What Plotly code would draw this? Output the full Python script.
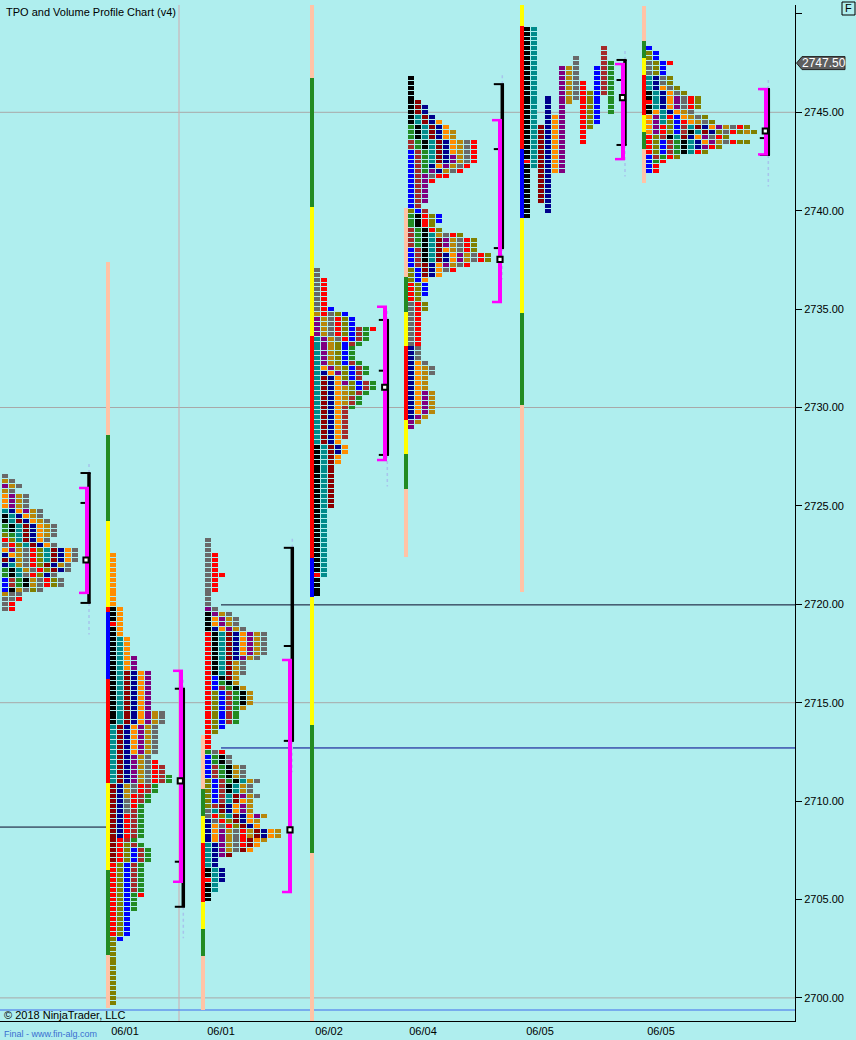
import plotly.graph_objects as go

# ---------------------------------------------------------------- data
TICK = 0.25
TPO_COLORS = {'k': '#000000', 't': '#008B8B', 'm': '#8B0000', 'n': '#00008B', 'o': '#FF8C00',
              'p': '#800080', 'g': '#B8860B', 'y': '#696969', 'r': '#FF0000', 'l': '#808000',
              'b': '#0000FF', 'w': '#A52A2A', 'e': '#228B22'}
BAR_COLORS = {'P': '#FFC3A6', 'G': '#228B22', 'Y': '#FFFF00', 'R': '#FF0000', 'B': '#0000FF'}

# TPO rows (letters per price row, top -> bottom), run-length encoded
A_TOP = 2726.5
A_ROWS = [("y", 1), ("gy", 1), ("pgy", 1), ("gy", 1), ("opgy", 3), ("tnopgy", 1), ("ktnogy", 1),
          ("ktmnogy", 1), ("ektmnogy", 2), ("letmnogy", 1), ("rltmnoy", 1), ("yrltmnoy", 1),
          ("opgyrltmnoy", 1), ("nogyrltmnoy", 1), ("mngyrltmnoy", 1), ("ntgyrlmngy", 1),
          ("ektgyrlmny", 1), ("ektyrlny", 1), ("bwekgyrly", 2), ("bkgyly", 1), ("gyy", 1),
          ("yyr", 1), ("yr", 2)]

B_TOP = 2722.5
B_ROWS = [("o", 11), ("ko", 3), ("ro", 1), ("ko", 2), ("kto", 4), ("ktop", 3), ("ktmnop", 8),
          ("ktmnopgy", 3), ("tmnopgy", 6), ("tmnpgy", 1), ("tmnpgyr", 1), ("tmnpgyrw", 2),
          ("tmnpgyrwe", 2), ("mngyrwe", 2), ("mngrwe", 1), ("mnyrwe", 1), ("mnyre", 1),
          ("mnywe", 1), ("mnrwe", 5), ("mrwe", 1), ("mrlwe", 1), ("mrlbwe", 3), ("rlbwe", 6),
          ("rlber", 1), ("rlbe", 3), ("rlb", 5), ("lb", 1), ("l", 13)]

C_TOP = 2723.25
C_ROWS = [("y", 3), ("yr", 4), ("yrr", 1), ("yr", 3), ("y", 3), ("py", 1), ("kpgy", 1),
          ("kopgy", 2), ("knopgy", 1), ("rktmnopgy", 5), ("rktmnpgy", 1), ("rktmgy", 3),
          ("rbkmg", 1), ("rbekg", 1), ("rbwekg", 1), ("rlbwekg", 3), ("rlbweg", 1), ("rlbwe", 3),
          ("rlb", 1), ("rl", 1), ("r", 3), ("eyr", 1), ("beky", 2), ("bwekgy", 3),
          ("lbwektgy", 1), ("lbwktgy", 2), ("lbwtmpgy", 1), ("lbwtmog", 1), ("lwmnopg", 1),
          ("ytmnopg", 1), ("yrltmnopg", 1), ("nyrlmnog", 1), ("noyrlmno", 1),
          ("nopgyrgmnog", 2), ("nopgyrmog", 1), ("tnpgyrmo", 1), ("tnpgymo", 1), ("tnpm", 1),
          ("tn", 2), ("ktn", 2), ("rtn", 1), ("kt", 2), ("k", 2)]

D_TOP = 2737.0
D_ROWS = [("y", 2), ("yr", 6), ("yrb", 1), ("grylb", 1), ("pgyrlb", 2), ("pgyrlbwer", 1),
          ("pgyrlbwe", 1), ("tpgyrbwe", 1), ("tpglbwe", 1), ("tpglbe", 3), ("tpglbwe", 1),
          ("topglbwe", 1), ("tnoplbwe", 1), ("tmnolbw", 1), ("tmnoplbwe", 1), ("tmnoglbwe", 1),
          ("tmnoglwe", 1), ("tmnogwe", 2), ("tmnowe", 1), ("tmnow", 6), ("tmno", 1),
          ("ktmno", 2), ("ktmo", 2), ("ktm", 9), ("kt", 13), ("rt", 1), ("k", 4)]

E_TOP = 2746.75
E_ROWS = [("k", 5), ("km", 1), ("kmn", 2), ("ktmn", 1), ("ktmno", 1), ("ektmno", 1),
          ("ektmnog", 2), ("wektmnogyr", 2), ("bwetmnogyr", 1), ("bwetmnpgyr", 2),
          ("bwenopgyr", 1), ("bwepngyr", 1), ("bwpyrr", 1), ("bwpr", 1), ("bwp", 4), ("bw", 1),
          ("lbw", 1), ("ekrlb", 2), ("ekrl", 1), ("wekrl", 1), ("wektgyrl", 1),
          ("wektmpgyrl", 2), ("bwktmogyrl", 1), ("bwktmnopgyrl", 2), ("bwmnopgyr", 1),
          ("lbmnoyr", 1), ("lbmno", 1), ("lbo", 1), ("rlb", 3), ("rl", 1), ("yrl", 2),
          ("yr", 7), ("ny", 3), ("noy", 1), ("nogy", 2), ("nog", 3), ("nopg", 5), ("npg", 1),
          ("pg", 1), ("p", 1)]

G_TOP = 2748.25
G_ROWS = [("b", 1), ("lb", 2), ("ylbr", 1), ("ylb", 2), ("tnyl", 2), ("tnoyl", 1), ("ktnoyl", 1),
          ("ktnopyrl", 1), ("rtnopyrl", 1), ("ktnopyrl", 1), ("kotnogy", 1), ("optrbogyl", 1),
          ("optlbrogyl", 1), ("oprlbwtmnopgyrl", 1), ("oprlbwktmnlyrlgl", 1),
          ("rlwktmnopyrl", 1), ("rlbwektnopgyrll", 1), ("rlbwektnprl", 1), ("rlbwektrl", 1),
          ("bwerl", 1), ("ber", 1), ("br", 2)]

# split profile (one column per period): period letter, high, low
F_PERIODS = "ktmnopgyrlbwe"
F_HIGH = [2749.25, 2749.25, 2744.25, 2745.75, 2744.75, 2747.25, 2747.25, 2747.75, 2746.5,
          2746.0, 2747.25, 2748.25, 2747.5]
F_LOW = [2739.75, 2742.25, 2740.5, 2740.0, 2742.0, 2742.0, 2745.5, 2745.75, 2743.5,
         2744.25, 2744.5, 2746.0, 2745.0]
F_OPEN = 2742.5

# session range bars: price edges (top -> bottom) and segment colours
B_BAR_EDGES = [2737.4, 2728.6, 2724.24, 2719.87, 2719.6, 2716.2, 2710.9, 2706.5, 2702.2, 2699.5]
B_BAR_COLS = "PGYRBRYGP"
C_BAR_EDGES = [2713.36, 2710.61, 2709.24, 2707.87, 2704.87, 2703.5, 2702.13, 2699.39]
C_BAR_COLS = "PGYRYGP"
D_BAR_EDGES = [2751.0, 2746.74, 2740.19, 2733.63, 2722.35, 2720.37, 2713.87, 2707.37, 2698.0]
D_BAR_COLS = "PGYRBYGP"
E_BAR_EDGES = [2740.14, 2736.63, 2734.85, 2733.12, 2729.36, 2727.64, 2725.86, 2722.4]
E_BAR_COLS = "PGYRYGP"
F_BAR_EDGES = [2751.0, 2749.39, 2743.14, 2739.63, 2734.8, 2730.13, 2720.63]
F_BAR_COLS = "YRBYGP"
G_BAR_EDGES = [2750.4, 2748.62, 2747.76, 2746.9, 2744.86, 2744.0, 2743.13, 2741.4]
G_BAR_COLS = "PGYRYGP"

# value area (magenta), range bracket (black), POC marker per profile A..G
VA_HIGH = [2725.91, 2716.62, 2717.17, 2735.12, 2744.60, 2747.45, 2746.18]
VA_LOW = [2720.58, 2705.90, 2705.38, 2727.33, 2735.36, 2742.62, 2742.86]
RNG_HIGH = [2726.67, 2715.71, 2722.87, 2734.45, 2746.43, 2747.66, 2746.18]
RNG_LOW = [2720.07, 2704.63, 2713.06, 2727.59, 2738.10, 2743.34, 2742.83]
RNG_MID = [2725.15, 2706.92, 2717.88, 2731.87, 2743.13, 2746.64, 2743.69]
POC = [2722.25, 2711.03, 2708.54, 2731.03, 2737.53, 2745.75, 2744.05]

# reference lines
HLINE_PRICES = [2719.97, 2712.70, 2708.68]
GRID_PRICES = [2745, 2730, 2715, 2700]
BLUE_LINE = 2699.39
LAST_PRICE = 2747.50

DATE_LABELS = ["06/01", "06/01", "06/02", "06/04", "06/05", "06/05"]
Y_TICKS = [2700, 2705, 2710, 2715, 2720, 2725, 2730, 2735, 2740, 2745, 2750]

# ---------------------------------------------------------------- layout / positions
W, H = 856, 1040
PLOT_L, PLOT_R, PLOT_T, PLOT_B = 0, 795, 5, 1021
Y_RANGE = [2698.826, 2750.452]
PX_PER_PT = (PLOT_B - PLOT_T) / (Y_RANGE[1] - Y_RANGE[0])
CELL_W, PITCH, CELL_H, BAR_W = 6, 7, 0.2, 4
PROFILE_X = {'A': 2, 'B': 110, 'C': 205, 'D': 314, 'E': 408, 'F': 524, 'G': 646}
BAR_X = {'B': 106, 'C': 201, 'D': 310, 'E': 404, 'F': 520, 'G': 642}
VA_X = [87, 181, 290, 385, 500, 623, 766]
RNG_X = [89, 183.3, 292.3, 387.3, 502.3, 625, 768.3]
MARK_X = [86, 180.3, 290, 384.7, 500, 622.5, 765.3]
MARK_HALF = 2.6  # px
DATE_X = [125, 221, 329, 423, 540, 661]
HLINE_SPANS = [(221, 795, '#080828'), (221, 795, '#00008B'), (0, 107, '#080828')]

# ---------------------------------------------------------------- build marks
groups = {}


def add(color, xc, base, h, w):
    g = groups.setdefault(color, {'x': [], 'base': [], 'h': [], 'w': []})
    g['x'].append(xc)
    g['base'].append(base)
    g['h'].append(h)
    g['w'].append(w)


def add_rows(top, rows, x0):
    i = 0
    for s, n in rows:
        for _ in range(n):
            price = top - i * TICK
            for j, ch in enumerate(s):
                if ch != ' ':
                    add(TPO_COLORS[ch], x0 + j * PITCH + CELL_W / 2, price - CELL_H / 2, CELL_H, CELL_W)
            i += 1


add_rows(A_TOP, A_ROWS, PROFILE_X['A'])
add_rows(B_TOP, B_ROWS, PROFILE_X['B'])
add_rows(C_TOP, C_ROWS, PROFILE_X['C'])
add_rows(D_TOP, D_ROWS, PROFILE_X['D'])
add_rows(E_TOP, E_ROWS, PROFILE_X['E'])
add_rows(G_TOP, G_ROWS, PROFILE_X['G'])

for j, (c, hi, lo) in enumerate(zip(F_PERIODS, F_HIGH, F_LOW)):
    n = int(round((hi - lo) / TICK))
    for k in range(n + 1):
        price = hi - k * TICK
        col = 'r' if (j == 0 and abs(price - F_OPEN) < 1e-6) else c
        add(TPO_COLORS[col], PROFILE_X['F'] + j * PITCH + CELL_W / 2, price - CELL_H / 2, CELL_H, CELL_W)

for key, edges, cols in [('B', B_BAR_EDGES, B_BAR_COLS), ('C', C_BAR_EDGES, C_BAR_COLS),
                         ('D', D_BAR_EDGES, D_BAR_COLS), ('E', E_BAR_EDGES, E_BAR_COLS),
                         ('F', F_BAR_EDGES, F_BAR_COLS), ('G', G_BAR_EDGES, G_BAR_COLS)]:
    for k, c in enumerate(cols):
        hi, lo = edges[k], edges[k + 1]
        add(BAR_COLORS[c], BAR_X[key] + BAR_W / 2, lo, hi - lo, BAR_W)

fig = go.Figure()
for color, g in groups.items():
    fig.add_trace(go.Bar(x=g['x'], y=g['h'], base=g['base'], width=g['w'],
                         marker=dict(color=color, line=dict(width=0)),
                         showlegend=False, hoverinfo='skip'))

shapes = []


def line(x0, y0, x1, y1, color, width, layer='above', dash=None, xref='x', yref='y'):
    d = dict(type='line', x0=x0, y0=y0, x1=x1, y1=y1, xref=xref, yref=yref, layer=layer,
             line=dict(color=color, width=width))
    if dash:
        d['line']['dash'] = dash
    shapes.append(d)


# grid lines
for p in GRID_PRICES:
    line(PLOT_L, p, PLOT_R, p, '#A8A8A8', 1, layer='below')
# session separator
line(179, Y_RANGE[0], 179, Y_RANGE[1], '#D0AAAE', 1, layer='below')
# reference horizontal lines
for p, (xa, xb, c) in zip(HLINE_PRICES, HLINE_SPANS):
    line(xa, p, xb, p, c, 1, layer='below')
line(PLOT_L, BLUE_LINE, PLOT_R, BLUE_LINE, '#6495ED', 1.5, layer='below')

# brackets
for i in range(7):
    bx, mx = RNG_X[i], VA_X[i]
    line(bx, RNG_LOW[i], bx, RNG_LOW[i] - 1.6, '#A8C4EC', 1.5, dash='dot', layer='below')
    line(bx, RNG_HIGH[i], bx, RNG_HIGH[i] + 0.6, '#A8C4EC', 1.5, dash='dot', layer='below')
    line(bx, RNG_HIGH[i], bx, RNG_LOW[i], 'black', 3.5)
    line(bx - 8.5, RNG_HIGH[i], bx + 1.7, RNG_HIGH[i], 'black', 2)
    line(bx - 8.5, RNG_LOW[i], bx + 1.7, RNG_LOW[i], 'black', 2)
    line(bx - 8.5, RNG_MID[i], bx, RNG_MID[i], 'black', 2)
    line(mx, VA_HIGH[i], mx, VA_LOW[i], '#FF00FF', 4)
    line(mx - 8, VA_HIGH[i], mx + 2, VA_HIGH[i], '#FF00FF', 2.5)
    line(mx - 8, VA_LOW[i], mx + 2, VA_LOW[i], '#FF00FF', 2.5)

# POC markers: drawn last so they sit on top of the brackets
for mxp, p in zip(MARK_X, POC):
    dy = MARK_HALF / PX_PER_PT
    shapes.append(dict(type='rect', xref='x', yref='y', x0=mxp - MARK_HALF, x1=mxp + MARK_HALF,
                       y0=p - dy, y1=p + dy, fillcolor='white',
                       line=dict(color='black', width=2), layer='above'))


def px_x(px):
    return (px - PLOT_L) / (PLOT_R - PLOT_L)


def px_y(py):
    return (PLOT_B - py) / (PLOT_B - PLOT_T)


# last price tag (outside plot area, paper coords)
ylp = PLOT_T + (Y_RANGE[1] - LAST_PRICE) / (Y_RANGE[1] - Y_RANGE[0]) * (PLOT_B - PLOT_T)
tag = (f"M {px_x(796.5)},{px_y(ylp)} L {px_x(802)},{px_y(ylp - 6.5)} L {px_x(845)},{px_y(ylp - 6.5)} "
       f"L {px_x(845)},{px_y(ylp + 6.5)} L {px_x(802)},{px_y(ylp + 6.5)} Z")
shapes.append(dict(type='path', path=tag, xref='paper', yref='paper', fillcolor='#5E5E5E',
                   line=dict(color='#202020', width=1), layer='above'))
# "F" box
shapes.append(dict(type='rect', xref='paper', yref='paper', x0=px_x(842), x1=px_x(855),
                   y0=px_y(15), y1=px_y(2), line=dict(color='black', width=1),
                   fillcolor='#AFEEEE', layer='above'))

FONT = "Arial, Liberation Sans, sans-serif"
annotations = [
    dict(text="TPO and Volume Profile Chart (v4)", x=px_x(4), y=px_y(12), xref='paper', yref='paper',
         xanchor='left', yanchor='middle', showarrow=False, font=dict(family=FONT, size=11, color='black')),
    dict(text="© 2018 NinjaTrader, LLC", x=px_x(2), y=px_y(1015), xref='paper', yref='paper',
         xanchor='left', yanchor='middle', showarrow=False, font=dict(family=FONT, size=11, color='black')),
    dict(text="Final - www.fin-alg.com", x=px_x(2), y=px_y(1034), xref='paper', yref='paper',
         xanchor='left', yanchor='middle', showarrow=False, font=dict(family=FONT, size=9, color='#3A6FD0')),
    dict(text=f"{LAST_PRICE:.2f}", x=px_x(823.5), y=px_y(ylp), xref='paper', yref='paper',
         xanchor='center', yanchor='middle', showarrow=False, font=dict(family=FONT, size=12, color='white')),
    dict(text="F", x=px_x(848.5), y=px_y(8.5), xref='paper', yref='paper',
         xanchor='center', yanchor='middle', showarrow=False, font=dict(family=FONT, size=11, color='black')),
]

fig.update_layout(
    width=W, height=H,
    margin=dict(l=PLOT_L, r=W - PLOT_R, t=PLOT_T, b=H - PLOT_B, pad=0),
    paper_bgcolor='#AFEEEE', plot_bgcolor='#AFEEEE',
    barmode='overlay', bargap=0,
    shapes=shapes, annotations=annotations,
    xaxis=dict(range=[PLOT_L, PLOT_R], showgrid=False, zeroline=False, showline=True,
               linecolor='black', linewidth=1, ticks='', tickvals=DATE_X, ticktext=DATE_LABELS,
               tickfont=dict(family=FONT, size=11, color='black'), fixedrange=True),
    yaxis=dict(range=Y_RANGE, side='right', showgrid=False, zeroline=False, showline=True,
               linecolor='black', linewidth=1, ticks='outside', ticklen=6, tickwidth=1,
               tickcolor='black', tickvals=Y_TICKS,
               ticktext=[f"{v:.2f}" if v < 2750 else "" for v in Y_TICKS],
               tickfont=dict(family=FONT, size=11, color='black'), fixedrange=True),
)

fig.write_html("out.html", config={'displayModeBar': False},
               post_script="document.body.style.margin='0';document.body.style.padding='0';"
                           "document.body.style.overflow='hidden';"
                           "document.body.style.background='#AFEEEE';")
